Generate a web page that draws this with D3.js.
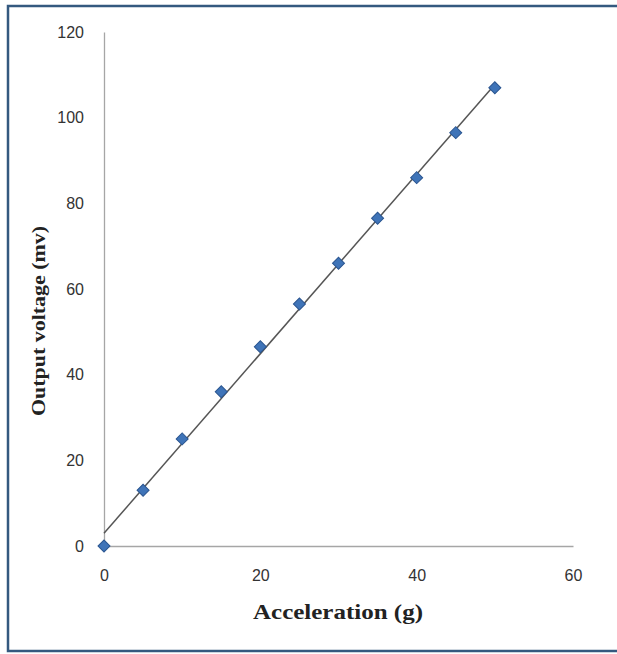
<!DOCTYPE html>
<html><head><meta charset="utf-8">
<script src="https://cdn.jsdelivr.net/npm/d3@7"></script>
<style>html,body{margin:0;padding:0;background:#fff;}svg{display:block;}</style>
</head><body>
<script>
const accel = [0, 5, 10, 15, 20, 25, 30, 35, 40, 45, 50];
const voltage = [0, 13, 25, 36, 46.5, 56.5, 66, 76.5, 86, 96.5, 107];
const xTicks = [0, 20, 40, 60];
const yTicks = [0, 20, 40, 60, 80, 100, 120];
const xTitle = "Acceleration (g)";
const yTitle = "Output voltage (mv)";

const W = 617, H = 654;
const svg = d3.select("body").append("svg").attr("width", W).attr("height", H);

// frame
svg.append("rect").attr("x", 8).attr("y", 6).attr("width", 630).attr("height", 645)
  .attr("fill", "#fff").attr("stroke", "#34597f").attr("stroke-width", 2.5);

const x = d3.scaleLinear().domain([0, 60]).range([104, 573]);
const y = d3.scaleLinear().domain([0, 120]).range([546, 32]);

const grey = "#a6a6a6";
// axes
const xAxis = svg.append("g").attr("transform", `translate(0,${y(0)})`)
  .call(d3.axisBottom(x).tickValues(xTicks).tickSize(0).tickPadding(24));
const yAxis = svg.append("g").attr("transform", `translate(${x(0)},0)`)
  .call(d3.axisLeft(y).tickValues(yTicks).tickSize(0).tickPadding(20));
[xAxis, yAxis].forEach(g => {
  g.select(".domain").attr("stroke", grey).attr("stroke-width", 1.3);
  g.selectAll("text").attr("font-family", "Liberation Sans, Arial, sans-serif")
    .attr("font-size", 16).attr("fill", "#333");
});

// linear trend line (least squares)
const mx = d3.mean(accel), my = d3.mean(voltage);
const slope = d3.sum(accel.map((a, i) => (a - mx) * (voltage[i] - my))) /
              d3.sum(accel.map(a => (a - mx) * (a - mx)));
const icpt = my - slope * mx;
const x0 = d3.min(accel), x1 = d3.max(accel);
svg.append("line")
  .attr("x1", x(x0)).attr("y1", y(icpt + slope * x0))
  .attr("x2", x(x1)).attr("y2", y(icpt + slope * x1))
  .attr("stroke", "#555").attr("stroke-width", 1.5);

// markers
const diamond = d3.symbol().type(d3.symbolSquare).size(72);
svg.append("g").selectAll("path").data(accel).join("path")
  .attr("d", diamond)
  .attr("transform", (d, i) => `translate(${x(d)},${y(voltage[i])}) rotate(45)`)
  .attr("fill", "#3f74b8").attr("stroke", "#2a5590").attr("stroke-width", 1);

// titles
svg.append("text").attr("x", 338).attr("y", 619).attr("text-anchor", "middle")
  .attr("font-family", "Liberation Serif, Times New Roman, serif").attr("font-weight", "bold")
  .attr("font-size", 21).attr("textLength", 170).attr("lengthAdjust", "spacingAndGlyphs")
  .attr("fill", "#222").text(xTitle);
svg.append("text").attr("transform", "translate(45,321) rotate(-90)").attr("text-anchor", "middle")
  .attr("font-family", "Liberation Serif, Times New Roman, serif").attr("font-weight", "bold")
  .attr("font-size", 19).attr("textLength", 190).attr("lengthAdjust", "spacingAndGlyphs")
  .attr("fill", "#222").text(yTitle);
</script>
</body></html>
